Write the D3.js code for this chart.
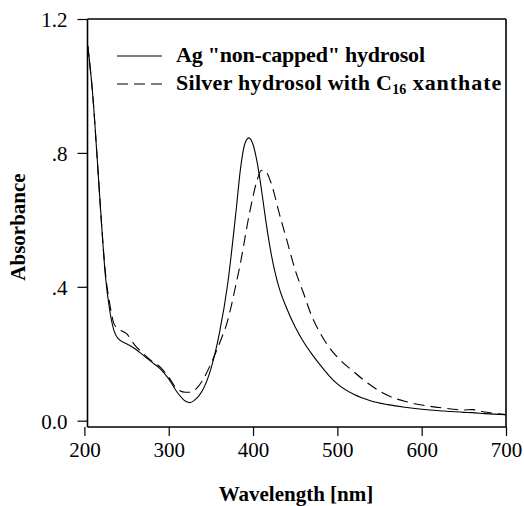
<!DOCTYPE html>
<html>
<head>
<meta charset="utf-8">
<script src="https://cdn.jsdelivr.net/npm/d3@7"></script>
<style>
  html, body { margin: 0; padding: 0; background: #fff; }
  svg { display: block; }
  text { font-family: "Liberation Serif", "Times New Roman", serif; fill: #000; }
</style>
</head>
<body>
<svg id="chart" width="524" height="506"></svg>
<script>
// ---- data ----
const wavelengths = [204,210,215,220,225,230,235,240,250,260,270,280,290,300,310,320,325,330,340,350,360,370,380,385,390,395,400,405,410,415,420,425,430,440,450,460,470,480,490,500,520,540,560,580,600,625,650,660,675,700];
const nonCapped   = [1.12,0.97,0.79,0.60,0.43,0.33,0.27,0.245,0.23,0.215,0.195,0.175,0.155,0.125,0.085,0.058,0.054,0.06,0.09,0.155,0.26,0.41,0.63,0.75,0.825,0.845,0.825,0.77,0.69,0.60,0.52,0.455,0.405,0.335,0.28,0.235,0.198,0.165,0.135,0.11,0.078,0.059,0.048,0.040,0.034,0.029,0.025,0.024,0.021,0.018];
const xanthate    = [1.12,0.97,0.79,0.60,0.44,0.35,0.29,0.275,0.26,0.225,0.20,0.178,0.16,0.13,0.095,0.085,0.085,0.09,0.12,0.17,0.23,0.30,0.41,0.47,0.54,0.61,0.67,0.72,0.748,0.745,0.72,0.68,0.63,0.54,0.45,0.38,0.31,0.26,0.22,0.19,0.145,0.105,0.075,0.058,0.047,0.038,0.032,0.033,0.026,0.018];
const seriesNames = ['Ag "non-capped" hydrosol', 'Silver hydrosol with C', '16', ' xanthate'];
const xTicks = [200,300,400,500,600,700];
const yTicks = [0,0.4,0.8,1.2];
const yTickLabels = ["0.0",".4",".8","1.2"];

// ---- layout ----
const svg = d3.select("#chart");
const fLeft = 87.5, fRight = 506, fTop = 19, fBottom = 427;
const x = d3.scaleLinear().domain([200,700]).range([84.4,506]);
const y = d3.scaleLinear().domain([0,1.2]).range([420.7,19]);

// frame
const frame = svg.append("g").attr("stroke","#000").attr("stroke-width",1.6).attr("fill","none");
frame.append("line").attr("x1",fLeft).attr("x2",fRight).attr("y1",fTop).attr("y2",fTop);
frame.append("line").attr("x1",fLeft).attr("x2",fLeft).attr("y1",fTop).attr("y2",fBottom);
frame.append("line").attr("x1",fLeft).attr("x2",fRight).attr("y1",fBottom).attr("y2",fBottom);
frame.append("line").attr("x1",fRight).attr("x2",fRight).attr("y1",fTop).attr("y2",fBottom);

// x axis
const xAxis = svg.append("g").attr("transform",`translate(0,${fBottom})`)
  .call(d3.axisBottom(x).tickValues(xTicks).tickSize(9).tickFormat(d3.format("d")));
xAxis.select(".domain").remove();
xAxis.selectAll(".tick line").attr("stroke","#000").attr("stroke-width",1.2);
xAxis.selectAll(".tick text").attr("y",30).attr("dy",0)
  .style("font-family","'Liberation Serif', serif").style("font-size","21px");

// y axis
const yAxis = svg.append("g").attr("transform",`translate(${fLeft},0)`)
  .call(d3.axisLeft(y).tickValues(yTicks).tickSize(10).tickFormat((d,i)=>yTickLabels[i]));
yAxis.select(".domain").remove();
yAxis.selectAll(".tick line").attr("stroke","#000").attr("stroke-width",1.2);
yAxis.selectAll(".tick text").attr("x",-20).attr("dy","0.35em")
  .style("font-family","'Liberation Serif', serif").style("font-size","21px");

// axis titles
svg.append("text").attr("x",296).attr("y",501).attr("text-anchor","middle")
  .style("font-size","21px").style("font-weight","bold").text("Wavelength [nm]");
svg.append("text").attr("transform","translate(25,227) rotate(-90)").attr("text-anchor","middle")
  .style("font-size","21px").style("font-weight","bold").text("Absorbance");

// curves
const line = d3.line().x((d,i)=>x(wavelengths[i])).y(d=>y(d)).curve(d3.curveMonotoneX);
svg.append("path").datum(nonCapped).attr("d",line).attr("fill","none").attr("stroke","#000").attr("stroke-width",1.1);
svg.append("path").datum(xanthate).attr("d",line).attr("fill","none").attr("stroke","#000").attr("stroke-width",1.1)
  .attr("stroke-dasharray","11,6");

// legend
const lg = svg.append("g");
lg.append("line").attr("x1",117).attr("x2",162).attr("y1",56).attr("y2",56).attr("stroke","#000").attr("stroke-width",1.1);
lg.append("line").attr("x1",117).attr("x2",162).attr("y1",84).attr("y2",84).attr("stroke","#000").attr("stroke-width",1.1).attr("stroke-dasharray","11,6");
lg.append("text").attr("x",176).attr("y",62).attr("textLength",249).attr("lengthAdjust","spacing")
  .style("font-size","22px").style("font-weight","bold").text(seriesNames[0]);
const t2 = lg.append("text").attr("x",176).attr("y",90).style("font-size","22px").style("font-weight","bold");
t2.append("tspan").attr("textLength",216).attr("lengthAdjust","spacing").text(seriesNames[1]);
t2.append("tspan").attr("dy",4).style("font-size","14px").text(seriesNames[2]);
t2.append("tspan").attr("dy",-4).attr("textLength",95).attr("lengthAdjust","spacing").text(seriesNames[3]);
</script>
</body>
</html>
